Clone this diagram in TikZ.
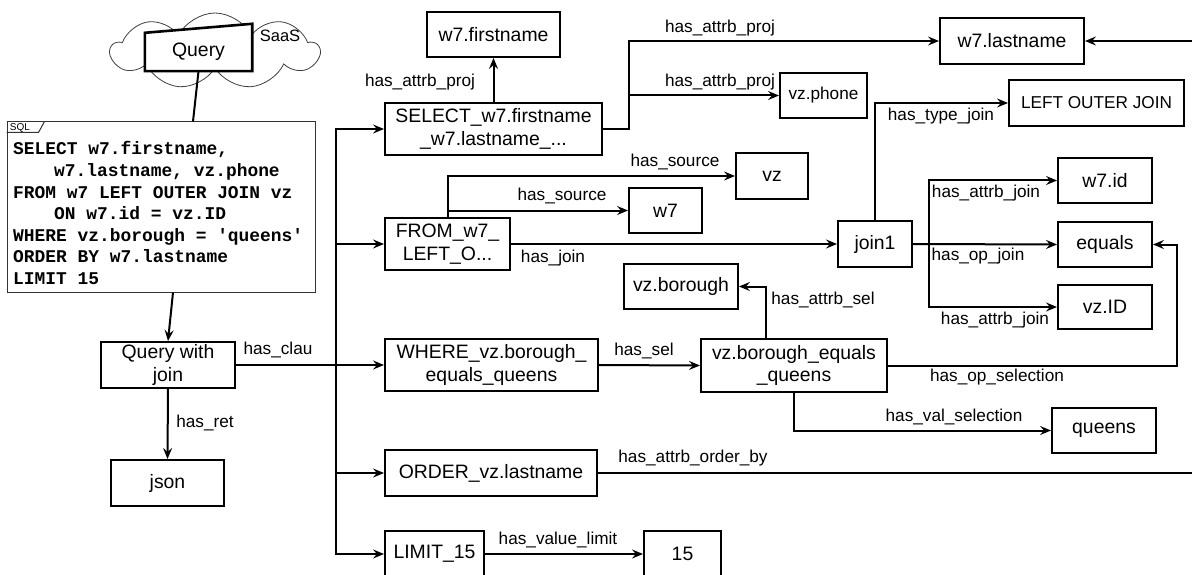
\documentclass[tikz,border=0pt]{standalone}
\usepackage{fontspec}
\setmainfont{Liberation Sans}
\newfontfamily\sqlfont{Liberation Mono}
\usetikzlibrary{arrows.meta,shapes.symbols}

\tikzset{
  box/.style={draw, line width=2pt, fill=white, align=center, inner sep=1pt,
    font=\fontsize{19.4}{22.5}\selectfont},
  smallbox/.style={box, font=\fontsize{17.2}{20}\selectfont},
  lbl/.style={inner sep=0pt, font=\fontsize{17.2}{20}\selectfont},
  link/.style={line width=2pt, -{Stealth[length=11pt,width=9pt,inset=4pt]}},
  plain/.style={line width=2pt},
  sqlline/.style={anchor=base west, inner sep=0pt,
    font=\sqlfont\bfseries\fontsize{17.9}{21.5}\selectfont},
}

\begin{document}
\begin{tikzpicture}[x=1pt,y=-1pt]
\fill[white] (0,0) rectangle (1192,575);
\useasboundingbox (0,0) rectangle (1192,575);

% --- query source: cloud with the query shape ---
\node[cloud, cloud puffs=9, cloud puff arc=125, cloud ignores aspect, draw=black!75,
      line width=0.8pt, fill=white, minimum width=208pt, minimum height=76pt] (cloud)
      at (215,51) {};
\node[font=\fontsize{16.5}{18}\selectfont, inner sep=0pt] (saas) at (280,36) {SaaS};
\node[minimum width=107pt, minimum height=47pt, inner sep=0pt] (query) at (198.5,47.5) {};
\filldraw[fill=white, line width=2.6pt, line join=miter]
  (query.south west) -- (query.south east) -- (query.north east)
  -- ([yshift=-9pt]query.north west) -- cycle;
\node[font=\fontsize{19.4}{22}\selectfont, inner sep=0pt] (qtext) at (198.5,52) {Query};

% --- SQL listing ---
\node[draw=black!80, line width=1pt, fill=white, minimum width=308pt,
      minimum height=170pt, inner sep=0pt] (sql) at (161,207) {};
\draw[line width=1pt, draw=black!80] ([yshift=-11pt]sql.north west) -- ++(32,0)
  -- ([xshift=38pt]sql.north west);
\node[font=\fontsize{10}{11}\selectfont, inner sep=0pt] (sqltag) at (20,128) {SQL};
\node[sqlline] (sql1) at (13,155)   {SELECT w7.firstname,};
\node[sqlline] (sql2) at (54,176.5) {w7.lastname, vz.phone};
\node[sqlline] (sql3) at (13,198)   {FROM w7 LEFT OUTER JOIN vz};
\node[sqlline] (sql4) at (54,219.5) {ON w7.id = vz.ID};
\node[sqlline] (sql5) at (13,241)   {WHERE vz.borough = 'queens'};
\node[sqlline] (sql6) at (13,262.5) {ORDER BY w7.lastname};
\node[sqlline] (sql7) at (13,284)   {LIMIT 15};

\draw[plain] (query.south) -- ([xshift=32pt]sql.north);

% --- graph nodes ---
\node[box, minimum width=134pt, minimum height=46pt] (qwj) at (168,365) {Query with\\join};
\node[box, minimum width=113pt, minimum height=46pt] (json) at (167.5,483) {json};

\node[box, minimum width=133pt, minimum height=45pt] (fn) at (493.5,34.5) {w7.firstname};
\node[box, minimum width=217pt, minimum height=52pt] (sel) at (493.5,129)
  {SELECT\_w7.firstname\\\_w7.lastname\_...};
\node[box, minimum width=144pt, minimum height=46pt] (ln) at (1012,41) {w7.lastname};
\node[smallbox, minimum width=87pt, minimum height=45pt] (ph) at (823.5,95.5) {vz.phone};
\node[smallbox, minimum width=175pt, minimum height=46pt] (loj) at (1096.5,103) {LEFT OUTER JOIN};

\node[box, minimum width=72pt, minimum height=46pt] (vz) at (772,176) {vz};
\node[box, minimum width=73pt, minimum height=45pt] (w7) at (665.5,210.5) {w7};
\node[box, minimum width=125pt, minimum height=52pt] (from) at (447.5,244)
  {FROM\_w7\_\\LEFT\_O...};
\node[box, minimum width=74pt, minimum height=46pt] (join) at (875,244) {join1};

\node[box, minimum width=94pt, minimum height=45pt] (wid) at (1105,180.5) {w7.id};
\node[box, minimum width=94pt, minimum height=45pt] (eq) at (1105,244.5) {equals};
\node[box, minimum width=94pt, minimum height=44pt] (vid) at (1105,307) {vz.ID};

\node[box, minimum width=114pt, minimum height=45pt] (vzb) at (681,286.5) {vz.borough};
\node[box, minimum width=213pt, minimum height=52pt] (where) at (491.5,365)
  {WHERE\_vz.borough\_\\equals\_queens};
\node[box, minimum width=186pt, minimum height=53pt] (vbe) at (794,365.5)
  {vz.borough\_equals\\\_queens};
\node[box, minimum width=104pt, minimum height=45pt] (qs) at (1104,430.5) {queens};

\node[box, minimum width=212pt, minimum height=46pt] (order) at (491,473) {ORDER\_vz.lastname};
\node[box, minimum width=99pt, minimum height=46pt] (lim) at (434.5,554) {LIMIT\_15};
\node[box, minimum width=77pt, minimum height=46pt] (n15) at (682.5,554) {15};

% --- connectors ---
\draw[link] ([xshift=12pt]sql.south) -- (qwj.north);
\draw[link] (qwj.south) -- (json.north);

\coordinate (bus) at (336,365);
\draw[link] (qwj.east) -- (bus) |- (sel.west);
\draw[link] (qwj.east) -- (bus) |- (from.west);
\draw[link] (qwj.east) -- (bus) |- (where.west);
\draw[link] (qwj.east) -- (bus) |- (order.west);
\draw[link] (qwj.east) -- (bus) |- (lim.west);

\draw[link] (sel.north) -- (fn.south);
\draw[link] (sel.east) -- ++(26,0) |- (ln.west);
\draw[link] (sel.east) -- ++(26,0) |- (ph.west);

\draw[link] (from.north) |- (vz.west);
\draw[link] (from.north) |- (w7.west);
\draw[link] (from.east) -- (join.west);

\draw[link] (join.north) |- (loj.west);
\draw[link] (join.east) -- ++(16,0) |- (wid.west);
\draw[link] (join.east) -- (eq.west);
\draw[link] (join.east) -- ++(16,0) |- (vid.west);

\draw[link] (where.east) -- (vbe.west);
\draw[link] ([xshift=-28pt]vbe.north) |- (vzb.east);
\draw[link] (vbe.east) -- ++(289,0) |- (eq.east);
\draw[link] (vbe.south) |- (qs.west);

\draw[link] (order.east) -- ++(630,0) |- (ln.east);
\draw[link] (lim.east) -- (n15.west);

% --- connector labels ---
\node[lbl] (l1)  at (278,350)  {has\_clau};
\node[lbl] (l2)  at (205,423)  {has\_ret};
\node[lbl] (l3)  at (420,82)   {has\_attrb\_proj};
\node[lbl] (l4)  at (720,28)   {has\_attrb\_proj};
\node[lbl] (l5)  at (720,82)   {has\_attrb\_proj};
\node[lbl] (l6)  at (941,116)  {has\_type\_join};
\node[lbl] (l7)  at (675,162)  {has\_source};
\node[lbl] (l8)  at (562,196)  {has\_source};
\node[lbl] (l9)  at (553,258)  {has\_join};
\node[lbl] (l10) at (986,193)  {has\_attrb\_join};
\node[lbl] (l11) at (978,256)  {has\_op\_join};
\node[lbl] (l12) at (995,320)  {has\_attrb\_join};
\node[lbl] (l13) at (823,300)  {has\_attrb\_sel};
\node[lbl] (l14) at (644,351)  {has\_sel};
\node[lbl] (l15) at (997,377)  {has\_op\_selection};
\node[lbl] (l16) at (954,417)  {has\_val\_selection};
\node[lbl] (l17) at (693,458)  {has\_attrb\_order\_by};
\node[lbl] (l18) at (558,540)  {has\_value\_limit};
\end{tikzpicture}
\end{document}
